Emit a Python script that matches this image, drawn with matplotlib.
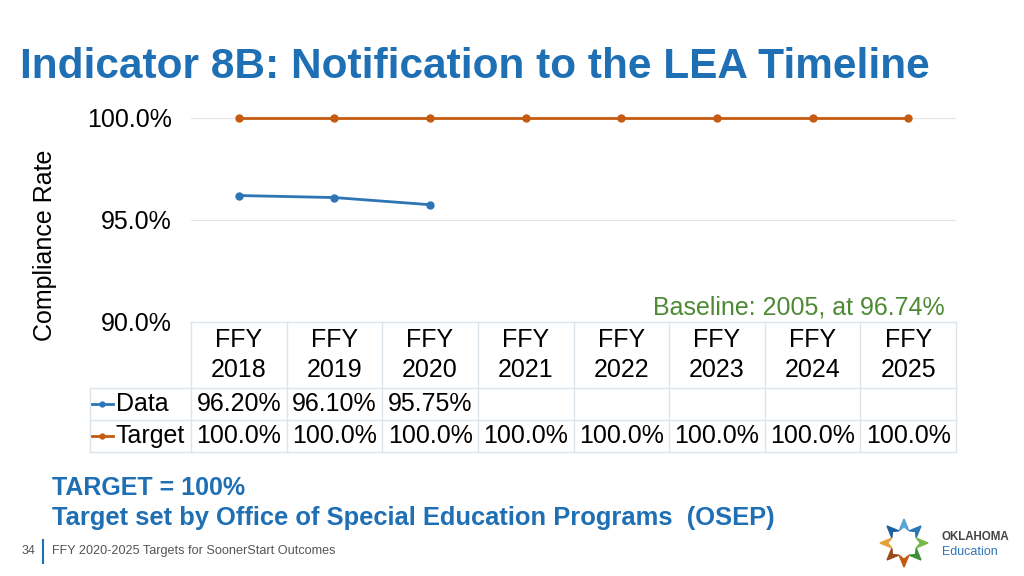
import numpy as np
import matplotlib.pyplot as plt
from matplotlib.patches import Polygon

plt.rcParams['font.family'] = ['Liberation Sans', 'DejaVu Sans']

# data
years = ['FFY\n2018', 'FFY\n2019', 'FFY\n2020', 'FFY\n2021',
         'FFY\n2022', 'FFY\n2023', 'FFY\n2024', 'FFY\n2025']
data_vals = [96.20, 96.10, 95.75]
target_vals = [100.0] * 8
data_labels = ['96.20%', '96.10%', '95.75%', '', '', '', '', '']
target_labels = ['100.0%'] * 8

c_data = '#2E75B6'
c_target = '#C55A11'
c_title = '#1F6FB5'
c_grid = '#DCE4EC'
fs = 18

fig = plt.figure(figsize=(10.24, 5.76), dpi=100)
W, H = 1024, 576


def fx(px):
    return px / W


def fy(py):
    return 1 - py / H


ax = fig.add_axes([fx(191), fy(322), fx(956) - fx(191), fy(118) - fy(322)])
n = len(years)
x = np.arange(n)
ax.set_xlim(-0.5, n - 0.5)
ax.set_ylim(90, 100)
ax.set_yticks([90, 95, 100])
ax.set_yticklabels(['90.0%', '95.0%', '100.0%'], fontsize=fs)
ax.tick_params(axis='y', length=0, pad=14)
ax.set_xticks([])
for s in ax.spines.values():
    s.set_visible(False)
for g in [95, 100]:
    ax.axhline(g, color='#E6E6E6', lw=0.8, zorder=0)

ax.plot(x, target_vals, color=c_target, lw=2, marker='o', ms=5, clip_on=False, zorder=3)
ax.plot(x[:len(data_vals)], data_vals, color=c_data, lw=2, marker='o', ms=5, clip_on=False, zorder=3)

fig.text(fx(45), fy(245), 'Compliance Rate', fontsize=fs, rotation=90,
         ha='center', va='center')

# data table below the plot
tr = ax.get_xaxis_transform()
ax_h = 322 - 118
row_y = [0.0, -(388 - 322) / ax_h, -(420 - 322) / ax_h, -(452 - 322) / ax_h]
left_lbl = -0.5 - (191 - 90) / ((956 - 191) / n)

kw = dict(transform=tr, clip_on=False, color=c_grid, lw=1)
ax.plot([-0.5, n - 0.5], [row_y[0]] * 2, **kw)
for yy in row_y[1:]:
    ax.plot([left_lbl, n - 0.5], [yy] * 2, **kw)
for i in range(n + 1):
    ax.plot([i - 0.5] * 2, [row_y[0], row_y[3]], **kw)
ax.plot([left_lbl] * 2, [row_y[1], row_y[3]], **kw)

for i in range(n):
    ax.text(i, (row_y[0] + row_y[1]) / 2, years[i], transform=tr, ha='center',
            va='center', fontsize=fs, linespacing=1.32)
    ax.text(i, (row_y[1] + row_y[2]) / 2, data_labels[i], transform=tr,
            ha='center', va='center', fontsize=fs)
    ax.text(i, (row_y[2] + row_y[3]) / 2, target_labels[i], transform=tr,
            ha='center', va='center', fontsize=fs)

for j, (name, col) in enumerate([('Data', c_data), ('Target', c_target)]):
    yc = (row_y[j + 1] + row_y[j + 2]) / 2
    x0 = left_lbl + 0.02
    ax.plot([x0, x0 + 0.22], [yc, yc], transform=tr, clip_on=False, color=col, lw=2)
    ax.plot([x0 + 0.11], [yc], transform=tr, clip_on=False, color=col, marker='o', ms=3.5)
    ax.text(x0 + 0.25, yc, name, transform=tr, ha='left', va='center', fontsize=fs)

ax.text(n - 0.62, 0.07, 'Baseline: 2005, at 96.74%', transform=tr, ha='right',
        va='center', fontsize=fs, color='#4E8A34')

# slide text
fig.text(fx(20), fy(67), 'Indicator 8B: Notification to the LEA Timeline', fontsize=30.5,
         fontweight='bold', color=c_title, va='center', ha='left')
fig.text(fx(52), fy(488), 'TARGET = 100%', fontsize=18, fontweight='bold',
         color=c_title, va='center')
fig.text(fx(52), fy(518), 'Target set by Office of Special Education Programs  (OSEP)',
         fontsize=18.4, fontweight='bold', color=c_title, va='center')
fig.text(fx(22), fy(551), '34', fontsize=9, color='#555555', va='center')
fig.add_artist(plt.Line2D([fx(43), fx(43)], [fy(540), fy(563)], color=c_title, lw=1.5))
fig.text(fx(52), fy(551), 'FFY 2020-2025 Targets for SoonerStart Outcomes', fontsize=9.1,
         color='#555555', va='center')

# logo approximation
cx, cy, r = 904, 543, 24
logo_cols = ['#5BA3D9', '#2E75B6', '#7AB648', '#3F8F3A', '#C55A11', '#9B4A1C', '#E3A23A', '#1F5FA0']
for k, col in enumerate(logo_cols):
    a = np.deg2rad(90 - k * 45)
    pts = []
    for da, rr in [(-0.38, r * 0.55), (0, r), (0.38, r * 0.55), (0, r * 0.68)]:
        pts.append((fx(cx + rr * np.cos(a + da)), fy(cy - rr * np.sin(a + da))))
    fig.add_artist(Polygon(pts, closed=True, color=col, transform=fig.transFigure))
fig.text(fx(942), fy(537), 'OKLAHOMA', fontsize=8.3, fontweight='bold', color='#444444', va='center')
fig.text(fx(942), fy(552), 'Education', fontsize=9, color=c_data, va='center')

fig.savefig('out.png', dpi=100)
